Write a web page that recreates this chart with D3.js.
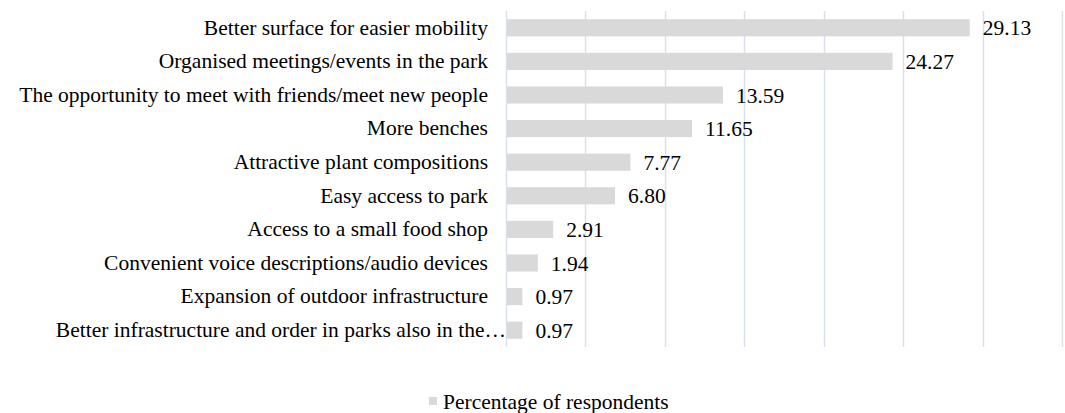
<!DOCTYPE html>
<html>
<head>
<meta charset="utf-8">
<script src="https://cdn.jsdelivr.net/npm/d3@7"></script>
<style>
  body { margin: 0; background: #fff; }
  text { font-family: "Liberation Serif", "Times New Roman", serif; fill: #000; }
</style>
</head>
<body>
<div id="chart-area"></div>
<script>
// data
let categories = [
	"Better surface for easier mobility",
	"Organised meetings/events in the park",
	"The opportunity to meet with friends/meet new people",
	"More benches",
	"Attractive plant compositions",
	"Easy access to park",
	"Access to a small food shop",
	"Convenient voice descriptions/audio devices",
	"Expansion of outdoor infrastructure",
	"Better infrastructure and order in parks also in the\u2026"
];
let values = [29.13, 24.27, 13.59, 11.65, 7.77, 6.80, 2.91, 1.94, 0.97, 0.97];
let ticks = [0, 5, 10, 15, 20, 25, 30, 35];
let seriesName = "Percentage of respondents";

let width  = 1065,
	height = 413,
	fontSize = "21.5px";

let plotLeft = 506, plotRight = 1062, plotTop = 11, plotBottom = 347;

let svg = d3.select("#chart-area")
	.append("svg")
	.attr("width", width)
	.attr("height", height);

// scales
let x = d3.scaleLinear()
	.domain([0, 35])
	.range([plotLeft, plotRight]);

let y = d3.scaleBand()
	.domain(categories)
	.range([plotTop, plotBottom])
	.paddingInner(0.49)
	.paddingOuter(0.245);

// gridlines
svg.append("g")
	.attr("class", "grid")
	.selectAll("line")
	.data(ticks)
	.enter()
	.append("line")
	.attr("x1", d => Math.round(x(d)) + 0.5)
	.attr("x2", d => Math.round(x(d)) + 0.5)
	.attr("y1", plotTop)
	.attr("y2", plotBottom)
	.attr("stroke", "#d9e1ec")
	.attr("stroke-width", 1.5);

// bars
svg.selectAll("rect.bar")
	.data(values)
	.enter()
	.append("rect")
	.attr("class", "bar")
	.attr("x", x(0) + 1)
	.attr("y", (d, i) => y(categories[i]))
	.attr("width", d => x(d) - x(0))
	.attr("height", y.bandwidth())
	.attr("fill", "#d9d9d9");

// value labels
svg.selectAll("text.value")
	.data(values)
	.enter()
	.append("text")
	.attr("class", "value")
	.attr("x", d => x(d) + 14)
	.attr("y", (d, i) => y(categories[i]) + y.bandwidth() / 2)
	.attr("dy", "0.35em")
	.style("font-size", fontSize)
	.text(d => d.toFixed(2));

// category axis
let yAxis = d3.axisLeft(y).tickSize(0).tickPadding(18);
let ga = svg.append("g")
	.attr("class", "axis y-axis")
	.attr("transform", "translate(" + plotLeft + ",0)")
	.call(yAxis);
ga.select(".domain").remove();
ga.selectAll("text")
	.style("font-size", fontSize)
	.attr("fill", "#000");
// the truncated label runs up to the axis line
ga.selectAll("text")
	.filter(d => d === categories[categories.length - 1])
	.attr("x", 0);

// legend
let legend = svg.append("g")
	.attr("transform", "translate(429,397)");
legend.append("rect")
	.attr("width", 8)
	.attr("height", 8)
	.attr("fill", "#d9d9d9");
legend.append("text")
	.attr("x", 14)
	.attr("y", 4)
	.attr("dy", "0.35em")
	.style("font-size", fontSize)
	.text(seriesName);
</script>
</body>
</html>
